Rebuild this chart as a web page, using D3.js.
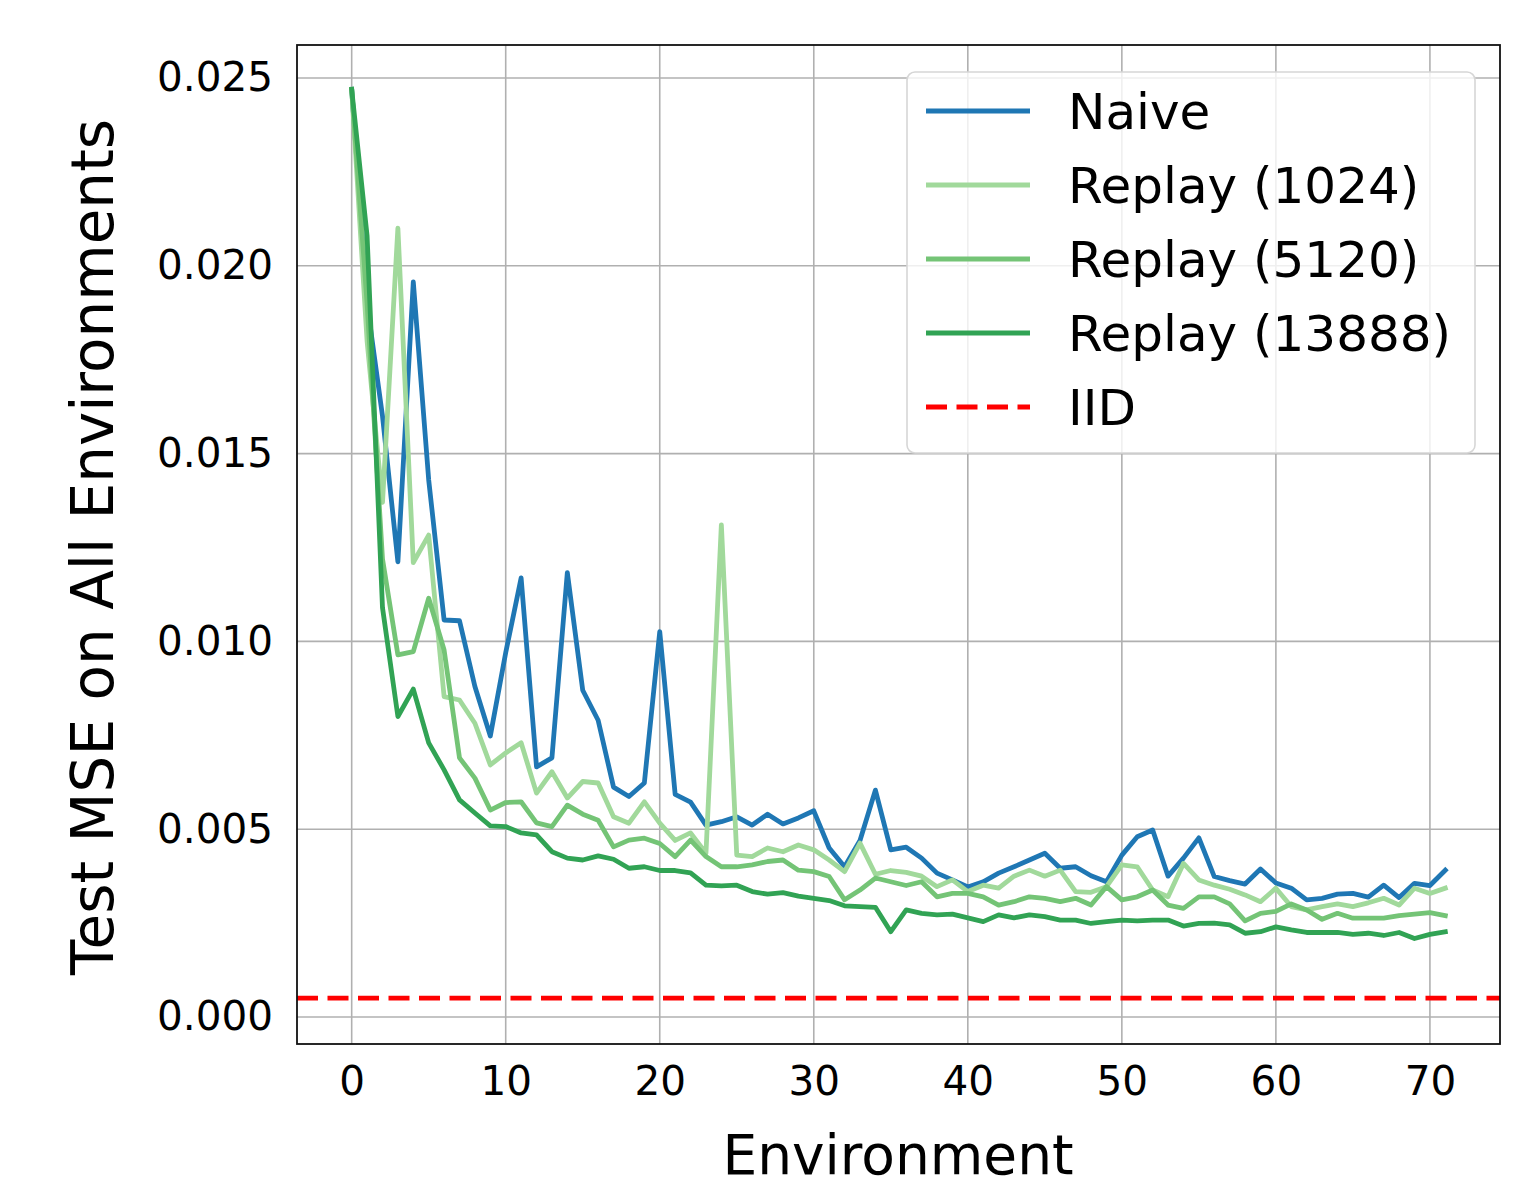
<!DOCTYPE html>
<html><head><meta charset="utf-8">
<script src="https://cdn.jsdelivr.net/npm/d3@7"></script>
<style>body{margin:0;background:#fff}svg{display:block}text{font-family:"DejaVu Sans",sans-serif;fill:#000}</style>
</head><body>
<svg id="c" width="1533" height="1188"></svg>
<script>
const naive = [0.0247,0.0190,0.0160,0.01212,0.01957,0.0143,0.01057,0.01055,0.0088,0.00748,
0.0097,0.01169,0.00666,0.0069,0.01183,0.0087,0.0079,0.00612,0.00587,0.00623,
0.01026,0.00593,0.00572,0.00511,0.0052,0.00533,0.00511,0.0054,0.00514,0.0053,
0.00549,0.0045,0.0040,0.0047,0.00604,0.00445,0.00452,0.00423,0.00383,0.00365,
0.00346,0.0036,0.00383,0.0040,0.00418,0.00436,0.00396,0.0040,0.00376,0.0036,
0.00431,0.0048,0.00498,0.00375,0.00423,0.00477,0.00374,0.00363,0.00354,0.00394,
0.00357,0.00343,0.00312,0.00316,0.00327,0.00329,0.00319,0.00351,0.00318,0.00356,
0.0035,0.00391];
const replay1024 = [0.0247,0.0180,0.0137,0.0210,0.0121,0.01283,0.00853,0.00844,0.00782,0.00671,
0.00703,0.0073,0.00596,0.00653,0.00583,0.00627,0.00623,0.00533,0.00516,0.00573,
0.00516,0.0047,0.0049,0.00436,0.0131,0.00431,0.00427,0.0045,0.0044,0.00458,
0.00445,0.00418,0.00387,0.00463,0.0038,0.0039,0.00385,0.00375,0.00347,0.00365,
0.00334,0.00351,0.00343,0.00375,0.00391,0.00375,0.00391,0.00334,0.00332,0.00347,
0.00405,0.0040,0.00338,0.0032,0.00409,0.00365,0.00351,0.0034,0.00325,0.00307,
0.00343,0.00294,0.00285,0.00294,0.00301,0.00294,0.00304,0.00316,0.00298,0.00343,
0.00329,0.00343];
const replay5120 = [0.0247,0.0190,0.0122,0.00964,0.00973,0.01115,0.00977,0.0069,0.00636,0.00551,
0.00571,0.00573,0.00517,0.00507,0.00564,0.0054,0.00524,0.00453,0.00471,0.00476,
0.00462,0.00427,0.00471,0.00427,0.0040,0.0040,0.00405,0.00414,0.00418,0.00391,
0.00387,0.00374,0.00312,0.00338,0.0037,0.0036,0.0035,0.0036,0.0032,0.00329,
0.00329,0.0032,0.00298,0.00307,0.0032,0.00316,0.00307,0.00316,0.00298,0.00347,
0.00312,0.0032,0.00338,0.00298,0.00289,0.0032,0.0032,0.00301,0.00256,0.00276,
0.00281,0.00301,0.00285,0.0026,0.00276,0.00263,0.00263,0.00263,0.0027,0.00274,
0.00278,0.0027];
const replay13888 = [0.0247,0.0208,0.0109,0.0080,0.00873,0.0073,0.00658,0.00578,0.00543,0.00509,
0.00507,0.0049,0.00485,0.0044,0.00423,0.00418,0.00429,0.0042,0.00396,0.0040,
0.0039,0.0039,0.00384,0.00351,0.00349,0.00351,0.00334,0.00327,0.00331,0.00322,
0.00316,0.0031,0.00296,0.00294,0.00292,0.00227,0.00285,0.00276,0.00272,0.00274,
0.00264,0.00254,0.00272,0.00264,0.00272,0.00267,0.00258,0.00258,0.00249,0.00254,
0.00258,0.00256,0.00258,0.00258,0.00242,0.00249,0.0025,0.00245,0.00223,0.00227,
0.0024,0.00232,0.00225,0.00225,0.00225,0.0022,0.00223,0.00217,0.00225,0.00209,
0.0022,0.00227];
const iid = 0.0005;
const seriesNames = ["Naive","Replay (1024)","Replay (5120)","Replay (13888)","IID"];
const seriesColors = ["#1f77b4","#a1d99b","#74c476","#31a354","#ff0000"];
const xTicks = [0,10,20,30,40,50,60,70];
const yTicks = [0.000,0.005,0.010,0.015,0.020,0.025];
const xLabel = "Environment";
const yLabel = "Test MSE on All Environments";

const svg = d3.select("#c");
const L=297,R=1500,T=45,B=1044;
const x = d3.scaleLinear().domain([-3.55,74.55]).range([L,R]);
const y = d3.scaleLinear().domain([-0.000719,0.025879]).range([B,T]);

// grid
const g = svg.append("g");
g.selectAll(".gx").data(xTicks).join("line")
 .attr("x1",d=>x(d)).attr("x2",d=>x(d)).attr("y1",T).attr("y2",B)
 .attr("stroke","#b0b0b0").attr("stroke-width",1.6);
g.selectAll(".gy").data(yTicks).join("line")
 .attr("y1",d=>y(d)).attr("y2",d=>y(d)).attr("x1",L).attr("x2",R)
 .attr("stroke","#b0b0b0").attr("stroke-width",1.6);

// axes tick labels via d3 axes
const xAxis = svg.append("g").attr("transform",`translate(0,${B})`)
 .call(d3.axisBottom(x).tickValues(xTicks).tickSize(0).tickPadding(22).tickFormat(d3.format("d")));
const yAxis = svg.append("g").attr("transform",`translate(${L},0)`)
 .call(d3.axisLeft(y).tickValues(yTicks).tickSize(0).tickPadding(24).tickFormat(d3.format(".3f")));
[xAxis,yAxis].forEach(a=>{a.select(".domain").remove();
 a.selectAll("text").attr("font-size",40.5).attr("font-family","DejaVu Sans").attr("fill","#000");});
xAxis.selectAll("text").attr("dy","0.71em");

// lines
svg.append("clipPath").attr("id","cp").append("rect")
 .attr("x",L).attr("y",T).attr("width",R-L).attr("height",B-T);
const line = d3.line().x((d,i)=>x(i)).y(d=>y(d));
const plot = svg.append("g").attr("clip-path","url(#cp)");
[naive,replay1024,replay5120,replay13888].forEach((s,k)=>{
 plot.append("path").datum(s).attr("d",line).attr("fill","none")
  .attr("stroke",seriesColors[k]).attr("stroke-width",4.8)
  .attr("stroke-linejoin","round").attr("stroke-linecap","square");
});
plot.append("line").attr("x1",L).attr("x2",R).attr("y1",y(iid)).attr("y2",y(iid))
 .attr("stroke",seriesColors[4]).attr("stroke-width",4.8).attr("stroke-dasharray","21,9.5");

// frame
svg.append("rect").attr("x",L).attr("y",T).attr("width",R-L).attr("height",B-T)
 .attr("fill","none").attr("stroke","#111").attr("stroke-width",1.8);

// axis labels
svg.append("text").attr("x",898).attr("y",1174).attr("text-anchor","middle")
 .attr("font-size",55).text(xLabel);
svg.append("text").attr("transform","translate(113,547) rotate(-90)").attr("text-anchor","middle")
 .attr("font-size",58).text(yLabel);

// legend
const lg = svg.append("g");
lg.append("rect").attr("x",907).attr("y",72).attr("width",568).attr("height",381).attr("rx",8)
 .attr("fill","#fff").attr("fill-opacity",0.8).attr("stroke","#d6d6d6").attr("stroke-width",1.6);
seriesNames.forEach((n,i)=>{
 const yy = 111 + i*74;
 lg.append("line").attr("x1",926).attr("x2",1030).attr("y1",yy).attr("y2",yy)
  .attr("stroke",seriesColors[i]).attr("stroke-width",4.8)
  .attr("stroke-dasharray", i===4 ? "21,9.5" : null);
 lg.append("text").attr("x",1068).attr("y",yy).attr("dy","0.35em").attr("font-size",50).text(n);
});
</script>
</body></html>
